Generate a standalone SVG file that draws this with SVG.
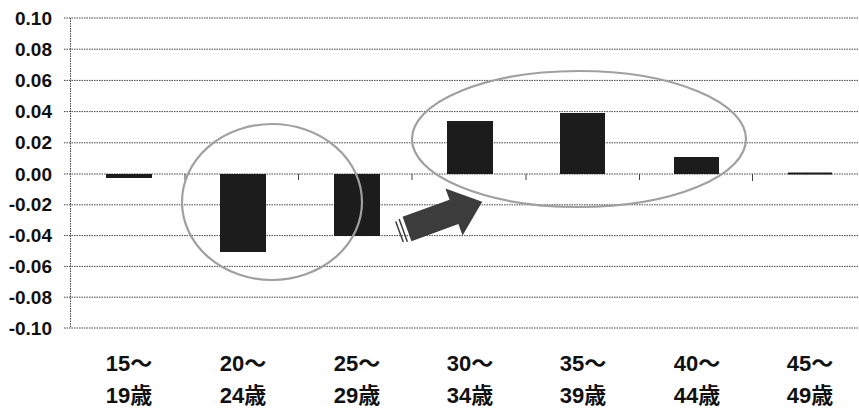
<svg xmlns="http://www.w3.org/2000/svg" width="859" height="412" viewBox="0 0 859 412">
<style>
.grid{stroke:#444;stroke-width:1;stroke-dasharray:1.5 1;fill:none}
.tick{stroke:#444;stroke-width:1}
.bar{fill:#1c1c1c}
.ring{fill:none;stroke:#a0a0a0;stroke-width:2.2}
.yl{font-family:"Liberation Sans","Noto Sans CJK JP",sans-serif;font-weight:bold;font-size:19px;fill:#111;text-anchor:end}
.xl{font-family:"Liberation Sans","Noto Sans CJK JP",sans-serif;font-weight:bold;font-size:22px;fill:#111;text-anchor:middle}
</style>
<rect width="859" height="412" fill="#fff"/>
<g id="gridlines">
<line class="grid" x1="64" y1="18" x2="858" y2="18"/>
<line class="grid" x1="64" y1="49.2" x2="858" y2="49.2"/>
<line class="grid" x1="64" y1="80.4" x2="858" y2="80.4"/>
<line class="grid" x1="64" y1="111.6" x2="858" y2="111.6"/>
<line class="grid" x1="64" y1="142.8" x2="858" y2="142.8"/>
<line class="grid" x1="64" y1="174" x2="858" y2="174"/>
<line class="grid" x1="64" y1="204.8" x2="858" y2="204.8"/>
<line class="grid" x1="64" y1="235.6" x2="858" y2="235.6"/>
<line class="grid" x1="64" y1="266.4" x2="858" y2="266.4"/>
<line class="grid" x1="64" y1="297.2" x2="858" y2="297.2"/>
<line class="grid" x1="64" y1="328" x2="858" y2="328"/>
<line class="grid" x1="70.5" y1="18" x2="70.5" y2="328"/>
<line class="tick" x1="185" y1="174" x2="185" y2="180"/>
<line class="tick" x1="298.5" y1="174" x2="298.5" y2="180"/>
<line class="tick" x1="412" y1="174" x2="412" y2="180"/>
<line class="tick" x1="526" y1="174" x2="526" y2="180"/>
<line class="tick" x1="639.5" y1="174" x2="639.5" y2="180"/>
<line class="tick" x1="752.5" y1="174" x2="752.5" y2="181"/>
</g>
<g id="y-axis-labels">
<text class="yl" x="52" y="25">0.10</text>
<text class="yl" x="52" y="56">0.08</text>
<text class="yl" x="52" y="87">0.06</text>
<text class="yl" x="52" y="118">0.04</text>
<text class="yl" x="52" y="149">0.02</text>
<text class="yl" x="52" y="180.5">0.00</text>
<text class="yl" x="52" y="211">-0.02</text>
<text class="yl" x="52" y="242">-0.04</text>
<text class="yl" x="52" y="273">-0.06</text>
<text class="yl" x="52" y="304">-0.08</text>
<text class="yl" x="52" y="334.5">-0.10</text>
</g>
<g id="bars">
<rect id="bar-15-19" class="bar" x="106" y="174" width="46" height="4"/>
<rect id="bar-20-24" class="bar" x="220" y="174" width="46" height="78"/>
<rect id="bar-25-29" class="bar" x="334" y="174" width="46" height="62"/>
<rect id="bar-30-34" class="bar" x="447" y="121" width="46" height="53"/>
<rect id="bar-35-39" class="bar" x="560" y="113" width="45" height="61"/>
<rect id="bar-40-44" class="bar" x="674" y="157" width="45" height="17"/>
<rect id="bar-45-49" class="bar" x="788" y="172.5" width="44" height="2"/>
</g>
<g id="highlight-young">
<ellipse class="ring" cx="272" cy="202" rx="90" ry="78"/>
</g>
<g id="highlight-older">
<ellipse class="ring" cx="579" cy="139" rx="167" ry="68"/>
</g>
<g id="connectors">
<g id="shift-arrow" transform="translate(407,229) rotate(-20)">
<polygon points="0,-13 50,-13 50,-25 80,0 50,25 50,13 0,13" fill="#3c3c3c"/>
<line x1="-4" y1="-12" x2="-4" y2="12" stroke="#3c3c3c" stroke-width="1.5"/>
<line x1="-8" y1="-11" x2="-8" y2="11" stroke="#3c3c3c" stroke-width="1.5"/>
</g>
</g>
<g id="x-axis-labels">
<text class="xl" x="129" y="371">15～</text><text class="xl" x="129" y="403">19歳</text>
<text class="xl" x="243" y="371">20～</text><text class="xl" x="243" y="403">24歳</text>
<text class="xl" x="357" y="371">25～</text><text class="xl" x="357" y="403">29歳</text>
<text class="xl" x="470" y="371">30～</text><text class="xl" x="470" y="403">34歳</text>
<text class="xl" x="583" y="371">35～</text><text class="xl" x="583" y="403">39歳</text>
<text class="xl" x="697" y="371">40～</text><text class="xl" x="697" y="403">44歳</text>
<text class="xl" x="810" y="371">45～</text><text class="xl" x="810" y="403">49歳</text>
</g>
</svg>
